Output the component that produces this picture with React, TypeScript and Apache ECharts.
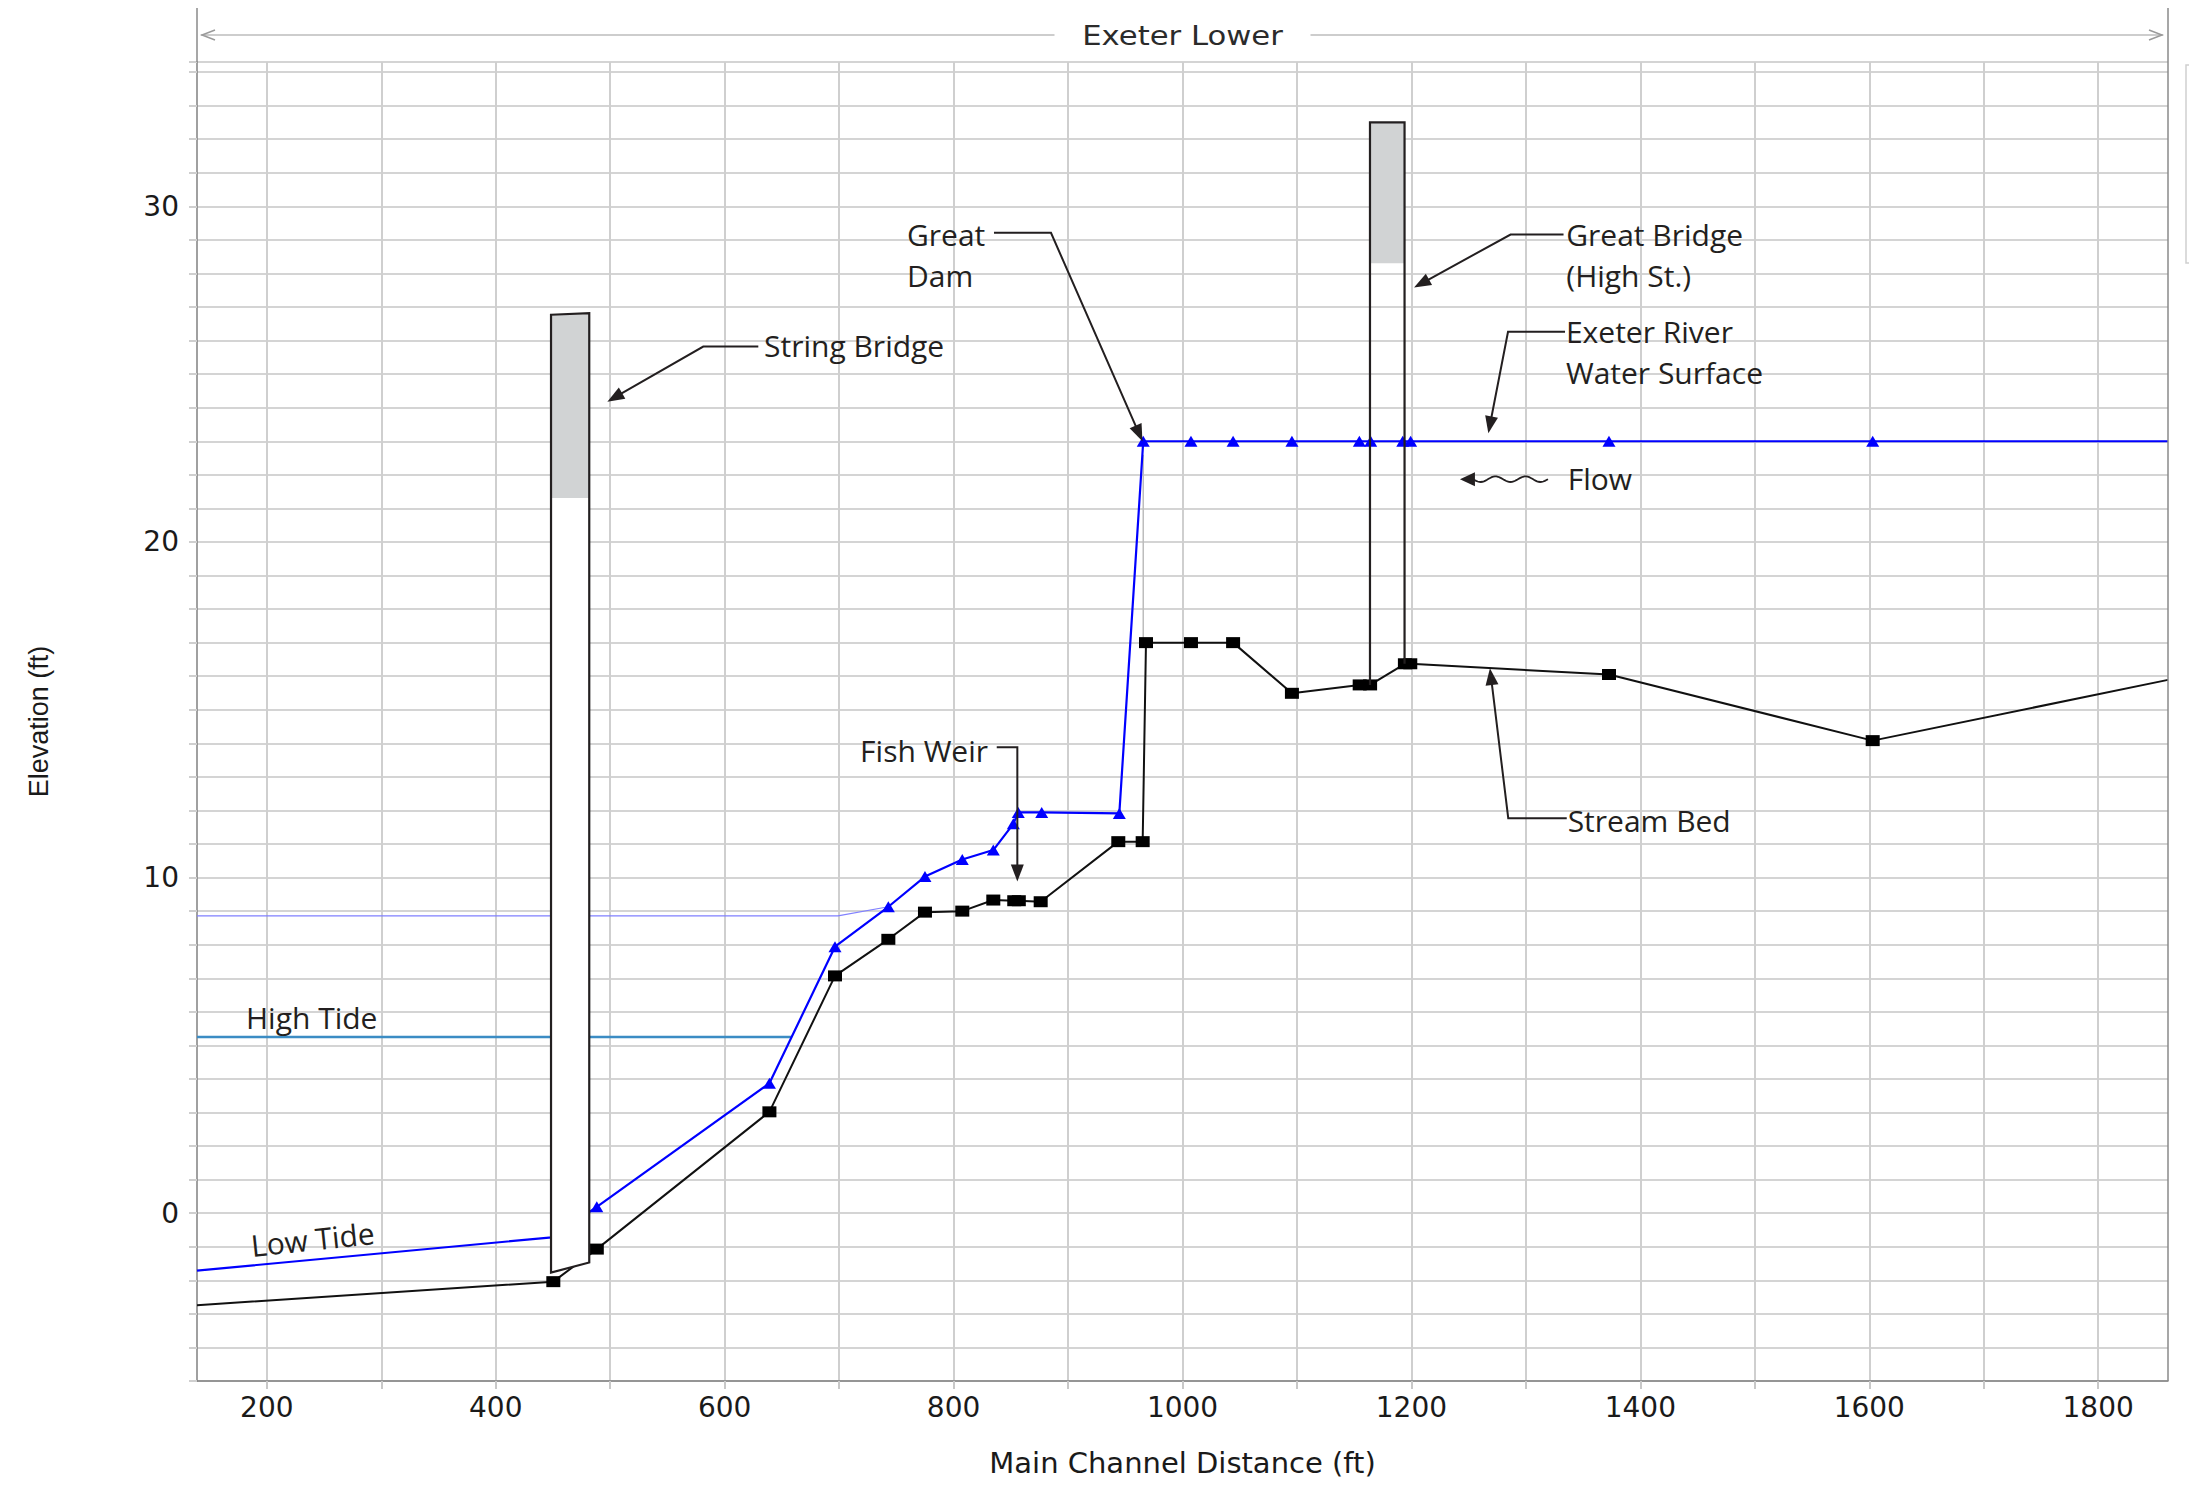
import React, { useEffect, useRef } from "react";
import * as echarts from "echarts";

// ---------- axes ----------
const X_MIN = 139;
const X_MAX = 1861;
const Y_MIN = -5;
const Y_MAX = 34.3;
const xLabelValues = [200, 400, 600, 800, 1000, 1200, 1400, 1600, 1800];
const xGridValues = [200, 300, 400, 500, 600, 700, 800, 900, 1000, 1100, 1200, 1300, 1400, 1500, 1600, 1700, 1800];
const yLabelValues = [0, 10, 20, 30];
const chartTitle = "Exeter Lower";

// ---------- stream bed (ft, elevation ft) ----------
const bedDist = [139, 450.3, 488.3, 639.1, 696.4, 743.0, 775.0, 807.6, 834.7, 853.0, 857.0, 876.1, 943.9, 965.2, 968.1, 1007.4, 1044.2, 1095.6, 1154.8, 1163.9, 1194.3, 1199.0, 1372.6, 1603.0, 1861];
const bedElev = [-2.74, -2.04, -1.07, 3.02, 7.07, 8.16, 8.97, 9.0, 9.33, 9.31, 9.31, 9.28, 11.07, 11.07, 17.0, 17.0, 17.0, 15.49, 15.74, 15.74, 16.37, 16.37, 16.05, 14.08, 15.89];

// ---------- water surface ----------
const wsDist = [139, 449.0, 488.3, 639.1, 696.4, 743.0, 775.0, 807.6, 834.7, 852.2, 856.5, 877.0, 944.8, 965.7, 1007.4, 1044.2, 1095.6, 1154.5, 1164.4, 1192.4, 1199.3, 1372.6, 1603.0, 1861];
const wsElev = [-1.71, -0.72, 0.19, 3.87, 7.94, 9.13, 10.03, 10.54, 10.82, 11.6, 11.94, 11.94, 11.91, 23.0, 23.0, 23.0, 23.0, 23.0, 23.0, 23.0, 23.0, 23.0, 23.0, 23.0];

// ---------- high tide profile & level ----------
const htProfileDist = [139, 699, 743.0];
const htProfileElev = [8.86, 8.86, 9.13];
const highTideDist = [139, 658.5];
const highTideElev = [5.25, 5.25];
const damFaceDist = [965.7, 965.7];
const damFaceElev = [22.6, 17.0];

// ---------- bridges ----------
const bridgeNames = ["String Bridge", "Great Bridge"];
const bridgeLeft = [448.3, 1163.8];
const bridgeRight = [481.7, 1194.0];
const bridgeTopLeft = [26.77, 32.5];
const bridgeTopRight = [26.82, 32.5];
const bridgeLowChord = [21.31, 28.3];
const bridgeBottomLeft = [-1.77, 15.74];
const bridgeBottomRight = [-1.47, 16.37];

// ---------- annotations (data coordinates) ----------
const annTexts = [
  { text: "String Bridge", at: [634.4, 25.84], align: "left" },
  { text: "Great\nDam", at: [759.3, 28.55], align: "left" },
  { text: "Great Bridge\n(High St.)", at: [1335.3, 28.56], align: "left" },
  { text: "Exeter River\nWater Surface", at: [1335.0, 25.67], align: "left" },
  { text: "Flow", at: [1336.5, 21.9], align: "left" },
  { text: "Fish Weir", at: [830.1, 13.8], align: "right" },
  { text: "Stream Bed", at: [1336.5, 11.71], align: "left" },
  { text: "High Tide", at: [181.8, 5.82], align: "left" },
  { text: "Low Tide", at: [240, -0.77], align: "center", rotate: 6 },
];
const annLeaders = [
  [[629.4, 25.82], [581.3, 25.82], [497.5, 24.18]],
  [[835.3, 29.21], [885.1, 29.21], [965.0, 23.0]],
  [[1332.9, 29.16], [1286.6, 29.16], [1202.3, 27.58]],
  [[1334.2, 26.26], [1284.4, 26.26], [1267.2, 23.24]],
  [[837.7, 13.88], [855.7, 13.88], [855.7, 9.88]],
  [[1335.7, 11.77], [1284.6, 11.77], [1268.6, 16.24]],
];
const flowArrow = { from: [1319.3, 21.87], to: [1253.8, 21.87], tip: [1242.4, 21.87] };

const INK = "#231f20";
const ANN_FONT = "Open Sans";

function hiddenUnderStringBridge(x: number, y: number) {
  return x >= bridgeLeft[0] - 5 && x <= bridgeRight[0] && y > bridgeBottomLeft[0];
}

function buildOption() {
  const bedData = bedDist.map((x, i) => ({
    value: [x, bedElev[i]],
    symbol: i === 0 || i === bedDist.length - 1 ? "none" : "rect",
  }));
  const wsData = wsDist.map((x, i) => ({
    value: [x, wsElev[i]],
    symbol:
      i === 0 || i === wsDist.length - 1 || hiddenUnderStringBridge(x, wsElev[i]) ? "none" : "triangle",
  }));
  const bridgeData = bridgeNames.map((n, i) => ({
    name: n,
    value: [bridgeLeft[i], bridgeRight[i], bridgeTopLeft[i], bridgeTopRight[i], bridgeLowChord[i], bridgeBottomLeft[i], bridgeBottomRight[i]],
  }));

  return {
    animation: false,
    backgroundColor: "#ffffff",
    grid: { left: 197, right: 21, top: 62, bottom: 108, containLabel: false, outerBoundsMode: "none" },
    xAxis: {
      type: "value",
      min: X_MIN,
      max: X_MAX,
      name: "Main Channel Distance (ft)",
      nameLocation: "middle",
      nameGap: 67,
      nameTextStyle: { fontFamily: "DejaVu Sans", fontSize: 29, color: "#1a1a1a" },
      axisLine: { show: true, onZero: false, lineStyle: { color: "#808080", width: 1.5 } },
      axisTick: { show: true, length: 8, customValues: xGridValues, lineStyle: { color: "#c8c8c8", width: 2 } },
      axisLabel: {
        customValues: xLabelValues,
        formatter: (v: number) => String(v),
        fontFamily: "DejaVu Sans",
        fontSize: 28,
        color: "#1a1a1a",
        margin: 12,
      },
      splitLine: { show: true, lineStyle: { color: "#cfcfcf", width: 2 } },
    },
    yAxis: {
      type: "value",
      min: Y_MIN,
      max: Y_MAX,
      interval: 1,
      name: "Elevation (ft)",
      nameLocation: "middle",
      nameGap: 145,
      nameRotate: 90,
      nameTextStyle: { fontFamily: "Liberation Sans", fontSize: 27, color: "#1a1a1a" },
      axisLine: { show: true, onZero: false, lineStyle: { color: "#808080", width: 1.5 } },
      axisTick: { show: true, length: 8, lineStyle: { color: "#cfcfcf", width: 2 } },
      axisLabel: {
        customValues: yLabelValues,
        formatter: (v: number) => String(v),
        fontFamily: "DejaVu Sans",
        fontSize: 28,
        color: "#1a1a1a",
        margin: 18,
      },
      splitLine: { show: true, lineStyle: { color: "#d4d4d4", width: 2 } },
    },
    series: [
      {
        name: "High Tide Profile",
        type: "line",
        data: htProfileDist.map((x, i) => [x, htProfileElev[i]]),
        symbol: "none",
        lineStyle: { color: "#8080ff", width: 1.2 },
        z: 2,
      },
      {
        name: "High Tide",
        type: "line",
        data: highTideDist.map((x, i) => [x, highTideElev[i]]),
        symbol: "none",
        lineStyle: { color: "#3b8cc4", width: 2.5 },
        z: 2,
      },
      {
        name: "Dam Face",
        type: "line",
        data: damFaceDist.map((x, i) => [x, damFaceElev[i]]),
        symbol: "none",
        lineStyle: { color: "#bdbdbd", width: 1.5 },
        z: 2,
      },
      {
        name: "Stream Bed",
        type: "line",
        data: bedData,
        symbolSize: [14, 11],
        itemStyle: { color: "#000000" },
        lineStyle: { color: "#111111", width: 2 },
        z: 3,
      },
      {
        name: "Water Surface",
        type: "line",
        data: wsData,
        symbolSize: [13, 11],
        itemStyle: { color: "#0000ff" },
        lineStyle: { color: "#0000ff", width: 2.2 },
        z: 3,
      },
      {
        name: "Bridges",
        type: "custom",
        data: bridgeData,
        encode: { x: [0, 1], y: [2, 3, 4, 5, 6] },
        z: 5,
        renderItem: (params: any, api: any) => {
          const i = params.dataIndex;
          const tl = api.coord([api.value(0), api.value(2)]);
          const tr = api.coord([api.value(1), api.value(3)]);
          const lcl = api.coord([api.value(0), api.value(4)]);
          const lcr = api.coord([api.value(1), api.value(4)]);
          const bl = api.coord([api.value(0), api.value(5)]);
          const br = api.coord([api.value(1), api.value(6)]);
          const children: any[] = [];
          if (i === 0) {
            children.push({ type: "polygon", shape: { points: [tl, tr, br, bl] }, style: { fill: "#ffffff" } });
          }
          children.push({ type: "polygon", shape: { points: [tl, tr, lcr, lcl] }, style: { fill: "#d1d3d4" } });
          if (i === 0) {
            children.push({ type: "polygon", shape: { points: [tl, tr, br, bl] }, style: { fill: "none", stroke: INK, lineWidth: 2.2 } });
          } else {
            children.push({ type: "polyline", shape: { points: [bl, tl, tr, br] }, style: { fill: "none", stroke: INK, lineWidth: 2.2 } });
          }
          return { type: "group", children };
        },
      },
    ],
  };
}

function arrowHead(from: number[], tip: number[], len = 17, half = 6.5) {
  const dx = tip[0] - from[0];
  const dy = tip[1] - from[1];
  const L = Math.hypot(dx, dy) || 1;
  const ux = dx / L;
  const uy = dy / L;
  const bx = tip[0] - ux * len;
  const by = tip[1] - uy * len;
  return {
    head: {
      type: "polygon",
      z: 100,
      silent: true,
      shape: { points: [tip, [bx - uy * half, by + ux * half], [bx + uy * half, by - ux * half]] },
      style: { fill: INK },
    },
    base: [tip[0] - ux * len * 0.7, tip[1] - uy * len * 0.7],
  };
}

function buildGraphics(P: (x: number, y: number) => number[]) {
  const els: any[] = [];
  const left = P(X_MIN, Y_MAX)[0];
  const right = P(X_MAX, Y_MAX)[0];
  const top = P(X_MIN, Y_MAX)[1];
  const bottom = P(X_MIN, Y_MIN)[1];

  // frame extensions above the plot
  els.push({ type: "line", z: 50, silent: true, shape: { x1: left, y1: 8, x2: left, y2: top }, style: { stroke: "#8a8a8a", lineWidth: 1.5 } });
  els.push({ type: "line", z: 50, silent: true, shape: { x1: right, y1: 8, x2: right, y2: bottom }, style: { stroke: "#8a8a8a", lineWidth: 1.5 } });

  // reach line with arrows around the title
  const ry = 35;
  const cx = (left + right) / 2;
  const lineStyle = { stroke: "#bdbdbd", lineWidth: 1.5 };
  els.push({ type: "line", z: 50, silent: true, shape: { x1: left + 4, y1: ry, x2: cx - 128, y2: ry }, style: lineStyle });
  els.push({ type: "line", z: 50, silent: true, shape: { x1: cx + 128, y1: ry, x2: right - 5, y2: ry }, style: lineStyle });
  els.push({ type: "polyline", z: 50, silent: true, shape: { points: [[left + 18, ry - 5], [left + 5, ry], [left + 18, ry + 5]] }, style: { stroke: "#9a9a9a", lineWidth: 1.5, fill: "none" } });
  els.push({ type: "polyline", z: 50, silent: true, shape: { points: [[right - 19, ry - 5], [right - 6, ry], [right - 19, ry + 5]] }, style: { stroke: "#9a9a9a", lineWidth: 1.5, fill: "none" } });

  // reach title
  els.push({
    type: "text",
    z: 60,
    silent: true,
    x: cx,
    y: ry + 1,
    scaleX: 1.18,
    style: {
      text: chartTitle,
      fontFamily: "DejaVu Sans",
      fontSize: 26,
      fill: "#2b2b2b",
      align: "center",
      verticalAlign: "middle",
    },
  });

  // cut-off box at far right
  els.push({ type: "polyline", z: 50, silent: true, shape: { points: [[2189, 65], [2186, 65], [2186, 263], [2189, 263]] }, style: { stroke: "#d0d0d0", lineWidth: 1.5, fill: "none" } });

  // annotation texts
  annTexts.forEach((a) => {
    const p = P(a.at[0], a.at[1]);
    els.push({
      type: "text",
      z: 100,
      silent: true,
      x: p[0],
      y: p[1],
      rotation: a.rotate ? (a.rotate * Math.PI) / 180 : 0,
      style: {
        text: a.text,
        fontFamily: ANN_FONT,
        fontSize: 30,
        lineHeight: 41,
        fill: INK,
        align: a.align,
        verticalAlign: "middle",
      },
    });
  });

  // leader lines with arrowheads
  annLeaders.forEach((pts) => {
    const px = pts.map((d) => P(d[0], d[1]));
    const tip = px[px.length - 1];
    const prev = px[px.length - 2];
    const ah = arrowHead(prev, tip);
    const linePts = px.slice(0, -1).concat([ah.base]);
    els.push({ type: "polyline", z: 100, silent: true, shape: { points: linePts }, style: { stroke: INK, lineWidth: 2, fill: "none" } });
    els.push(ah.head);
  });

  // flow wavy arrow
  const f0 = P(flowArrow.from[0], flowArrow.from[1]);
  const f1 = P(flowArrow.to[0], flowArrow.to[1]);
  const ft = P(flowArrow.tip[0], flowArrow.tip[1]);
  const wave: number[][] = [];
  const N = 48;
  for (let k = 0; k <= N; k++) {
    const t = k / N;
    wave.push([f0[0] + (f1[0] - f0[0]) * t, f0[1] + 2.8 * Math.sin(t * Math.PI * 2 * 2.5)]);
  }
  els.push({ type: "polyline", z: 100, silent: true, shape: { points: wave }, style: { stroke: INK, lineWidth: 1.8, fill: "none" } });
  els.push({ type: "line", z: 100, silent: true, shape: { x1: f1[0], y1: f1[1], x2: ft[0] + 10, y2: ft[1] }, style: { stroke: INK, lineWidth: 1.8 } });
  els.push(arrowHead([f1[0], f1[1]], ft, 15, 7).head);

  return els;
}

export default function App() {
  const ref = useRef<HTMLDivElement>(null);
  useEffect(() => {
    const el = ref.current;
    if (!el) return;
    const chart = echarts.init(el, null, { renderer: "svg" });
    chart.setOption(buildOption() as any);
    const P = (x: number, y: number) =>
      chart.convertToPixel({ xAxisIndex: 0, yAxisIndex: 0 } as any, [x, y]) as unknown as number[];
    chart.setOption({ graphic: { elements: buildGraphics(P) } } as any);
    return () => chart.dispose();
  }, []);
  return (
    <div
      ref={ref}
      style={{ position: "fixed", left: 0, top: 0, width: 2189, height: 1489, background: "#ffffff" }}
    />
  );
}
